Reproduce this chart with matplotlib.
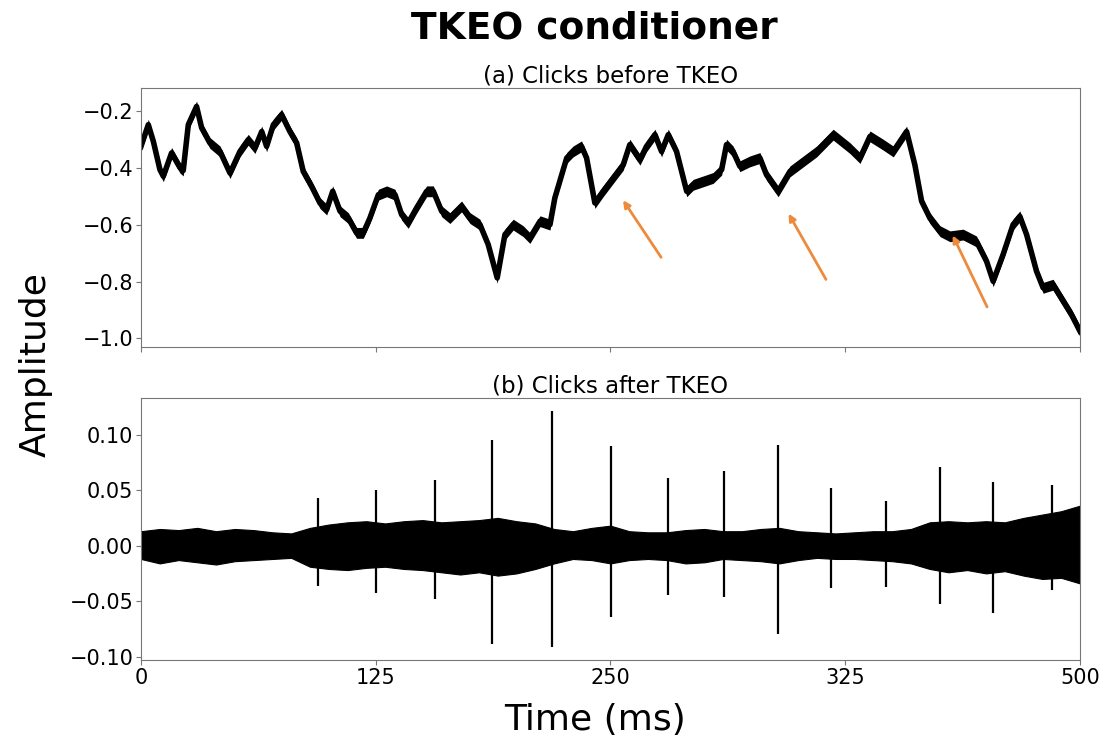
import numpy as np
import matplotlib
matplotlib.use('Agg')
import matplotlib.pyplot as plt

# (a) raw recording: centre of the trace (ms, amplitude)
raw_t = [0, 3.9, 6.6, 10.1, 11.9, 16.3, 20.8, 22.5, 25.2, 29.6, 32.3, 36.7, 42.1, 47.4,
         52.7, 57.1, 60.7, 64.3, 66.9, 70.5, 74.9, 79.3, 82.9, 86.4, 90.9, 95.3, 98.9,
         102.1, 106.0, 110.4, 114.8, 118.4, 121.9, 126.4, 130.8, 135.3, 138.8, 142.3,
         146.8, 152.1, 155.7, 160.1, 164.5, 170.7, 175.2, 180.5, 184.9, 189.7, 193.8,
         198.2, 203.5, 207.1, 212.5, 217.8, 220.4, 226.7, 230.1, 234.6, 237.3, 241.7,
         246.1, 251.5, 256.8, 260.3, 265.7, 269.2, 273.7, 277.2, 280.8, 285.2, 290.6,
         294.1, 299.4, 304.7, 309.2, 311.8, 315.3, 318.9, 324.2, 329.6, 333.1, 339.3,
         345.6, 352.7, 359.8, 368.6, 377.5, 382.9, 388.2, 395.2, 400.6, 407.7, 412.1,
         415.7, 420.1, 425.5, 430.8, 437.8, 444.9, 450.3, 453.8, 459.1, 464.4, 468.0,
         471.6, 476.9, 480.4, 485.7, 491.1, 495.5, 500]
raw_v = [-0.325, -0.249, -0.308, -0.407, -0.430, -0.348, -0.400, -0.410, -0.249, -0.185,
         -0.260, -0.313, -0.343, -0.419, -0.343, -0.302, -0.331, -0.273, -0.325, -0.249,
         -0.214, -0.273, -0.313, -0.413, -0.466, -0.524, -0.547, -0.483, -0.553, -0.577,
         -0.629, -0.629, -0.577, -0.495, -0.483, -0.495, -0.565, -0.594, -0.541, -0.483,
         -0.483, -0.553, -0.577, -0.536, -0.577, -0.600, -0.670, -0.787, -0.635, -0.600,
         -0.623, -0.647, -0.588, -0.600, -0.506, -0.366, -0.343, -0.325, -0.366, -0.524,
         -0.483, -0.436, -0.390, -0.319, -0.372, -0.325, -0.284, -0.343, -0.284, -0.343,
         -0.483, -0.460, -0.448, -0.436, -0.407, -0.319, -0.343, -0.395, -0.378, -0.366,
         -0.425, -0.483, -0.413, -0.378, -0.343, -0.284, -0.331, -0.366, -0.290, -0.319,
         -0.343, -0.273, -0.390, -0.518, -0.577, -0.623, -0.641, -0.635, -0.659, -0.729,
         -0.799, -0.705, -0.600, -0.571, -0.635, -0.764, -0.822, -0.811, -0.869, -0.916,
         -0.974]
raw_halfwidth = 0.019

# arrows marking clicks in (a): (tail t, tail v, head t, head v)
arrows = [(277.8, -0.723, 255.9, -0.506),
          (365.5, -0.801, 344.1, -0.553),
          (451.2, -0.898, 431.6, -0.629)]

# (b) TKEO output: noise envelope every 10 ms
env_t = list(range(0, 501, 10))
env_hi = [0.013, 0.015, 0.014, 0.016, 0.013, 0.015, 0.014, 0.012, 0.011, 0.016,
          0.019, 0.021, 0.022, 0.020, 0.022, 0.023, 0.021, 0.022, 0.023, 0.025,
          0.022, 0.020, 0.015, 0.013, 0.016, 0.018, 0.013, 0.012, 0.012, 0.014,
          0.015, 0.013, 0.013, 0.015, 0.016, 0.013, 0.012, 0.011, 0.012, 0.013,
          0.013, 0.015, 0.021, 0.022, 0.021, 0.022, 0.021, 0.025, 0.028, 0.031, 0.036]
env_lo = [-0.012, -0.016, -0.013, -0.015, -0.017, -0.014, -0.013, -0.012, -0.011, -0.019,
          -0.021, -0.022, -0.020, -0.019, -0.021, -0.022, -0.024, -0.026, -0.024, -0.027,
          -0.025, -0.021, -0.016, -0.012, -0.013, -0.016, -0.013, -0.012, -0.013, -0.016,
          -0.015, -0.012, -0.013, -0.014, -0.016, -0.013, -0.011, -0.012, -0.012, -0.013,
          -0.014, -0.016, -0.021, -0.024, -0.022, -0.025, -0.023, -0.027, -0.030, -0.029,
          -0.034]

# clicks in (b): time, positive peak, negative peak
click_t = [94.4, 125.0, 156.5, 187.1, 218.7, 250.1, 280.8, 310.4, 339.2, 367.7,
           396.7, 425.5, 453.8, 484.9]
click_hi = [0.043, 0.050, 0.059, 0.0955, 0.1216, 0.0895, 0.061, 0.0676, 0.091, 0.052,
            0.0405, 0.0706, 0.0574, 0.0543]
click_lo = [-0.036, -0.043, -0.048, -0.0886, -0.0913, -0.0646, -0.0448, -0.0466,
            -0.0796, -0.038, -0.0375, -0.053, -0.0606, -0.0396]

xticks = [0, 125, 250, 375, 500]
xticklabels = ['0', '125', '250', '325', '500']

SPINE = '#777777'
ORANGE = '#EE8A3C'

fig = plt.figure(figsize=(11.04, 7.45), dpi=100)
ax1 = fig.add_axes([0.1277, 0.5342, 0.8505, 0.3477])
ax2 = fig.add_axes([0.1277, 0.1141, 0.8505, 0.3517], sharex=ax1)

rt = np.array(raw_t)
rv = np.array(raw_v)
ax1.fill_between(rt, rv - raw_halfwidth, rv + raw_halfwidth, color='black', lw=0)
ax1.plot(rt, rv, color='black', lw=4)
for tt, tv, ht, hv in arrows:
    ax1.annotate('', xy=(ht, hv), xytext=(tt, tv),
                 arrowprops=dict(arrowstyle='-|>', color=ORANGE, lw=2, mutation_scale=10))
ax1.set_ylim(-1.03, -0.12)
ax1.set_yticks([-1.0, -0.8, -0.6, -0.4, -0.2])
ax1.set_title('(a) Clicks before TKEO', fontsize=16.5, pad=3)
plt.setp(ax1.get_xticklabels(), visible=False)

ax2.fill_between(env_t, env_lo, env_hi, color='black', lw=0.8)
ax2.vlines(click_t, click_lo, click_hi, color='black', lw=1.6)
ax2.set_ylim(-0.103, 0.133)
ax2.set_yticks([-0.10, -0.05, 0.0, 0.05, 0.10])
ax2.set_title('(b) Clicks after TKEO', fontsize=16.5, pad=3)
ax2.set_xlim(0, 500)
ax2.set_xticks(xticks)
ax2.set_xticklabels(xticklabels)

for ax in (ax1, ax2):
    ax.tick_params(labelsize=15, color=SPINE, pad=2)
    for s in ax.spines.values():
        s.set_color(SPINE)

fig.text(0.538, 0.962, 'TKEO conditioner', ha='center', va='center',
         fontsize=27, fontweight='bold')
fig.text(0.032, 0.51, 'Amplitude', rotation=90, ha='center', va='center', fontsize=26)
fig.text(0.539, 0.033, 'Time (ms)', ha='center', va='center', fontsize=26)

fig.savefig('out.png', dpi=100)
